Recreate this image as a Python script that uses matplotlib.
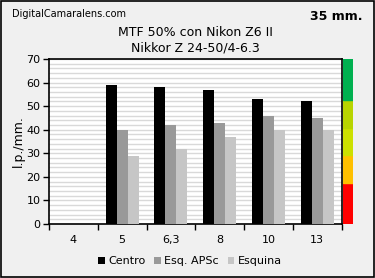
import numpy as np
import matplotlib.pyplot as plt
import matplotlib.patches as patches

apertures = ['4', '5', '6,3', '8', '10', '13']
centro = [0, 59, 58, 57, 53, 52]
esq_apsc = [0, 40, 42, 43, 46, 45]
esquina = [0, 29, 32, 37, 40, 40]

# quality scale on the right side (bounds in l.p./mm.)
scale_bounds = [0, 17.5, 29.2, 40.9, 52.6, 70]
scale_colors = ['#FF0000', '#FFC000', '#CCE000', '#B8D400', '#00B050']

fig = plt.figure(figsize=(3.75, 2.78), dpi=100, facecolor='#F0F0F0')
fig.patches.append(patches.Rectangle((0.002, 0.003), 0.994, 0.994, transform=fig.transFigure,
                                     fill=False, edgecolor='black', linewidth=1.2))

ax = fig.add_axes([49 / 375, 1 - 224 / 278, (341.5 - 49) / 375, 165 / 278])
ax.set_facecolor('white')

x = np.arange(len(apertures))
w = 0.225
ax.bar(x - w, centro, w, color='black', label='Centro', zorder=3)
ax.bar(x, esq_apsc, w, color='#999999', label='Esq. APSc', zorder=3)
ax.bar(x + w, esquina, w, color='#C6C6C6', label='Esquina', zorder=3)

ax.set_xlim(-0.5, len(apertures) - 0.5)
ax.set_ylim(0, 70)
ax.set_yticks(np.arange(0, 71, 10))
ax.set_yticks(np.arange(0, 71, 2), minor=True)
ax.grid(axis='y', which='both', color='#D9D9D9', linewidth=1.0, zorder=0)
ax.set_xticks(np.arange(-0.5, len(apertures), 1))
ax.set_xticklabels([])
ax.set_xticks(x, minor=True)
ax.set_xticklabels(apertures, minor=True, fontsize=8)
ax.tick_params(axis='x', which='major', length=4, direction='out', width=1)
ax.tick_params(axis='x', which='minor', length=0, pad=8)
ax.tick_params(axis='y', which='major', length=4, labelsize=8, width=1, pad=2)
ax.tick_params(axis='y', which='minor', length=0)
for s in ax.spines.values():
    s.set_linewidth(1.2)
ax.set_ylabel('l.p./mm.', fontsize=9, labelpad=1)

cax = fig.add_axes([343.3 / 375, 1 - 224 / 278, 9.5 / 375, 165 / 278])
for i, c in enumerate(scale_colors):
    cax.axhspan(scale_bounds[i], scale_bounds[i + 1], color=c)
cax.set_ylim(0, 70)
cax.set_xlim(0, 1)
cax.axis('off')

fig.text(0.5 * (49 + 341.5) / 375, 1 - 40.5 / 278, 'MTF 50% con Nikon Z6 II\nNikkor Z 24-50/4-6.3',
         ha='center', va='center', fontsize=9, linespacing=1.25)
fig.text(12 / 375, 1 - 14 / 278, 'DigitalCamaralens.com', fontsize=7, va='center')
fig.text(363 / 375, 1 - 17 / 278, '35 mm.', fontsize=9, fontweight='bold', ha='right', va='center')

fig.legend(loc='center', bbox_to_anchor=(190 / 375, 1 - 261 / 278), ncol=3, frameon=False,
           fontsize=8, handlelength=0.6, handleheight=0.6, handletextpad=0.3, columnspacing=0.8)

fig.savefig('out.png', dpi=100, facecolor=fig.get_facecolor())
